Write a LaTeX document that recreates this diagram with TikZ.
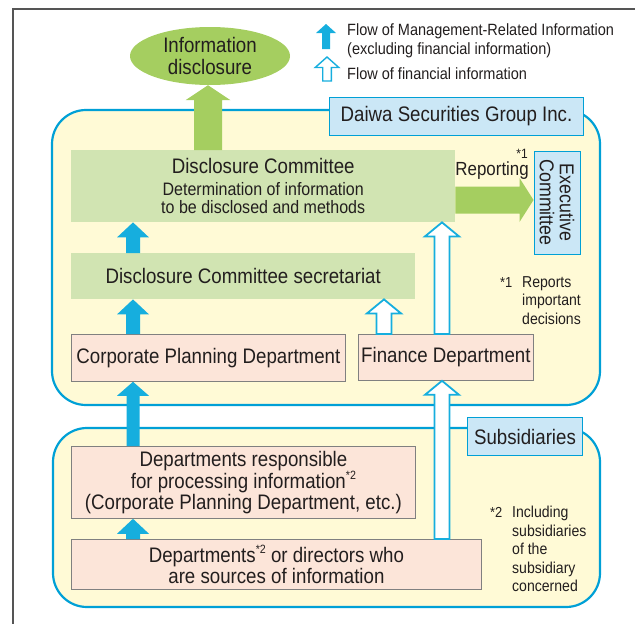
\documentclass[tikz,border=0pt]{standalone}
\usepackage{fontspec}
\setmainfont{Liberation Sans}[FakeStretch=0.89]
\definecolor{flowcyan}{RGB}{22,174,222}
\definecolor{edgecyan}{RGB}{0,160,214}
\definecolor{paleyellow}{RGB}{255,250,214}
\definecolor{palegreen}{RGB}{209,228,178}
\definecolor{leafgreen}{RGB}{165,206,96}
\definecolor{palepink}{RGB}{252,229,217}
\definecolor{paleblue}{RGB}{203,231,246}
\definecolor{inkgray}{RGB}{34,30,30}
\definecolor{framegray}{RGB}{85,85,85}
\usepackage{tikz}
\usetikzlibrary{shapes,arrows.meta,positioning,calc}

\newcommand{\fnmark}[1]{\raisebox{0.42em}{\fontsize{12}{12}\selectfont *#1}}

\begin{document}
\begin{tikzpicture}[x=1pt,y=-1pt,
  every node/.style={inner sep=0pt,text=inkgray},
  region/.style={draw=edgecyan,line width=2.2pt,fill=paleyellow,rounded corners=34pt},
  tagbox/.style={draw=edgecyan,line width=1pt,fill=paleblue,font=\fontsize{21}{21}\selectfont},
  greenbox/.style={fill=palegreen,anchor=north west,align=center},
  deptbox/.style={draw=black!50,line width=0.8pt,fill=palepink,anchor=north west,
    align=center,font=\fontsize{21}{21}\selectfont},
  note/.style={anchor=north west,align=left,font=\fontsize{15.8}{18.5}\selectfont},
  notemark/.style={anchor=north west,font=\fontsize{14.5}{14.5}\selectfont},
  % block arrows: shaft half width, head half width, head length
  uparr/.style n args={3}{to path={let \p1=(\tikztostart), \p2=(\tikztotarget) in
    (\x1-#1,\y1) -- (\x1-#1,\y2-#3) -- (\x1-#2,\y2-#3) -- (\x1,\y2)
    -- (\x1+#2,\y2-#3) -- (\x1+#1,\y2-#3) -- (\x1+#1,\y1) -- cycle}},
  rightarr/.style n args={3}{to path={let \p1=(\tikztostart), \p2=(\tikztotarget) in
    (\x1,\y1-#1) -- (\x2-#3,\y1-#1) -- (\x2-#3,\y1-#2) -- (\x2,\y1)
    -- (\x2-#3,\y1+#2) -- (\x2-#3,\y1+#1) -- (\x1,\y1+#1) -- cycle}},
  mgmtflow/.style={fill=flowcyan,uparr={7pt}{16pt}{15pt}},
  finflow/.style={draw=flowcyan,line width=1.8pt,fill=white,uparr={7.5pt}{17pt}{14pt}}]

  \useasboundingbox (0,0) rectangle (635,624);
  \draw[framegray,line width=1.4pt] (13,624) -- (13,9) -- (635,9);

  % legend
  \fill[flowcyan,uparr={4pt}{10pt}{9pt}] (326,49) to (326,24);
  \draw[flowcyan,line width=1.4pt,fill=white,uparr={4.3pt}{11.8pt}{10.5pt}] (327,81) to (327,57);
  \node[anchor=north west,align=left,font=\fontsize{16.3}{19}\selectfont] (lgmgmt) at (347,23)
    {Flow of Management-Related Information\\(excluding financial information)};
  \node[anchor=north west,font=\fontsize{16.3}{19}\selectfont] (lgfin) at (347,67)
    {Flow of financial information};

  % group and subsidiaries
  \draw[region] (52,110) rectangle (600,405);
  \draw[region] (53,428) rectangle (600,607);
  \node[tagbox,anchor=north west,minimum width=254pt,minimum height=38pt] (dgi) at (329,97)
    {Daiwa Securities Group Inc.};
  \node[tagbox,anchor=north west,minimum width=115pt,minimum height=38pt] (subs) at (467,417)
    {Subsidiaries};

  \node[ellipse,fill=leafgreen,minimum width=160pt,minimum height=58pt,align=center,
    font=\fontsize{21}{22}\selectfont] (info) at (210,56) {Information\\disclosure};
  \node[greenbox,minimum width=384pt,minimum height=72pt,font=\fontsize{21}{18}\selectfont]
    (dc) at (71,150) {Disclosure Committee\\[4pt]{\fontsize{18}{18}\selectfont Determination of information}\\
    {\fontsize{18}{18}\selectfont to be disclosed and methods}};
  \node[greenbox,minimum width=344pt,minimum height=46pt,font=\fontsize{21}{21}\selectfont]
    (sec) at (71,253) {Disclosure Committee secretariat};
  \node[tagbox,rotate=-90,minimum width=103pt,minimum height=46pt,align=center,
    font=\fontsize{20}{20}\selectfont] (exec) at (557,202.5) {Executive\\Committee};
  \node[deptbox,minimum width=274pt,minimum height=47pt] (cpd) at (71,334)
    {Corporate Planning Department};
  \node[deptbox,minimum width=175pt,minimum height=46pt] (fin) at (358,334)
    {Finance Department};
  \node[deptbox,minimum width=344pt,minimum height=72pt] (dresp) at (71,446)
    {Departments responsible\\for processing information\fnmark{2}\\(Corporate Planning Department, etc.)};
  \node[deptbox,minimum width=410pt,minimum height=50pt] (dsrc) at (71,539)
    {Departments\fnmark{2} or directors who\\are sources of information};

  \node[anchor=base east,font=\fontsize{19}{19}\selectfont] (rep) at (529,175) {Reporting};
  \node[anchor=base east,font=\fontsize{13.5}{13.5}\selectfont] (repmark) at (528,158) {*1};
  \node[notemark] (fnonemark) at (500,277) {*1};
  \node[note] (fnone) at (522,276) {Reports\\important\\decisions};
  \node[notemark] (fntwomark) at (490,507) {*2};
  \node[note] (fntwo) at (512,506) {Including\\subsidiaries\\of the\\subsidiary\\concerned};

  % arrow columns
  \coordinate (upx) at (208,0);
  \coordinate (repy) at (0,200);
  \coordinate (cyx) at (133,0);
  \coordinate (secx) at (384,0);
  \coordinate (finx) at (442,0);

  \fill[leafgreen,uparr={14pt}{22.5pt}{15pt}] (dc.north -| upx) to (info.south -| upx);
  \fill[leafgreen,rightarr={13.5pt}{22pt}{14pt}] (dc.east |- repy) to (exec.south |- repy);
  \fill[mgmtflow] (sec.north -| cyx) to (dc.south -| cyx);
  \fill[mgmtflow] (cpd.north -| cyx) to (sec.south -| cyx);
  \fill[fill=flowcyan,uparr={6.5pt}{16pt}{14pt}] (dresp.north -| cyx) to (cpd.south -| cyx);
  \fill[mgmtflow] (dsrc.north -| cyx) to (dresp.south -| cyx);
  \draw[finflow] (fin.north -| finx) to (dc.south -| finx);
  \draw[finflow] (fin.north -| secx) to (sec.south -| secx);
  \draw[finflow] (dsrc.north -| finx) to (fin.south -| finx);
\end{tikzpicture}
\end{document}
